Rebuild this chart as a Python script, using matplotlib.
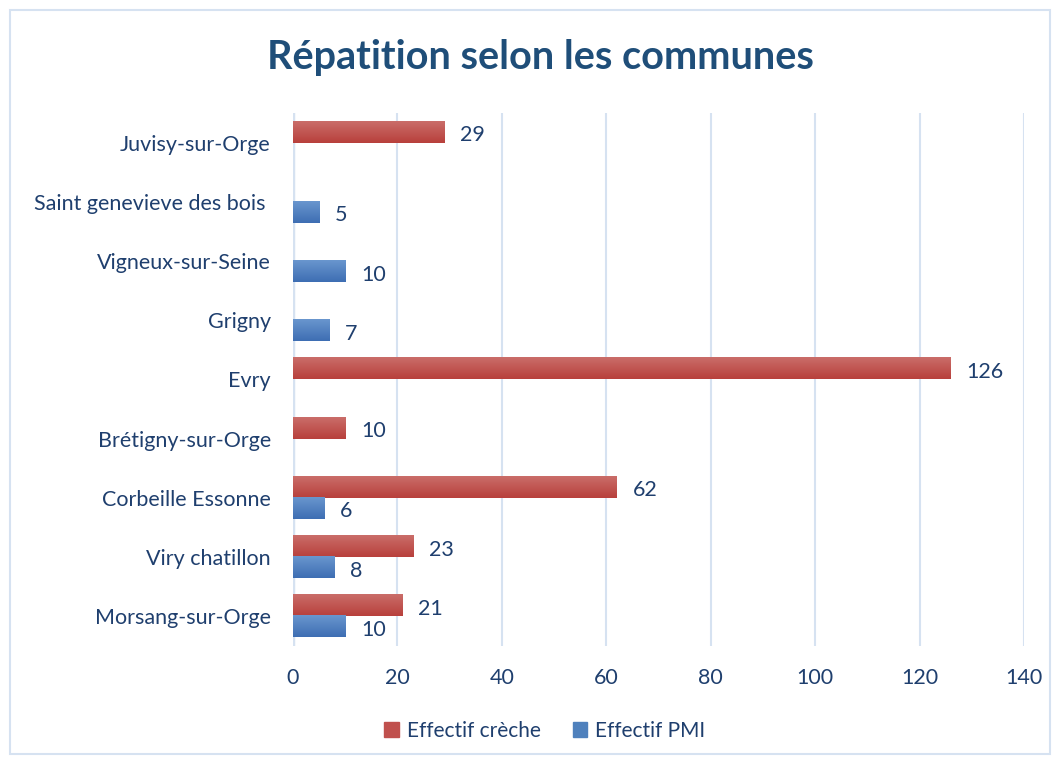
import numpy as np
import matplotlib.pyplot as plt
from matplotlib.patches import Rectangle
from matplotlib.colors import LinearSegmentedColormap

# Données
communes = ["Morsang-sur-Orge", "Viry chatillon", "Corbeille Essonne", "Brétigny-sur-Orge",
            "Evry", "Grigny", "Vigneux-sur-Seine", "Saint genevieve des bois ", "Juvisy-sur-Orge"]
creche = [21, 23, 62, 10, 126, None, None, None, 29]
pmi = [10, 8, 6, None, None, 7, 10, 5, None]
xticks = [0, 20, 40, 60, 80, 100, 120, 140]

texte = '#1F3F6E'
plt.rcParams['font.family'] = ['Lato', 'DejaVu Sans']

fig = plt.figure(figsize=(10.59, 7.62), dpi=100)
ax = fig.add_axes([293/1059, 1-646/762, (1024-293)/1059, 533/762])

# bordure du graphique
fig.patches.append(Rectangle((10/1059, 8/762), 1040/1059, 744/762, transform=fig.transFigure,
                             fill=False, edgecolor='#D6E2F1', linewidth=1.5))

y = np.arange(len(communes))
h = 0.355
c_vals = [v if v is not None else 0 for v in creche]
p_vals = [v if v is not None else 0 for v in pmi]
b1 = ax.barh(y + h/2, c_vals, height=h, color='#C0504D', label='Effectif crèche')
b2 = ax.barh(y - h/2, p_vals, height=h, color='#4F81BD', label='Effectif PMI')

# dégradé vertical dans chaque barre
def degrade(bars, haut, bas):
    grad = np.linspace(0, 1, 50).reshape(-1, 1)
    cmap = LinearSegmentedColormap.from_list('g', [haut, bas])
    for p in bars:
        if p.get_width() == 0:
            continue
        x0, y0 = p.get_x(), p.get_y()
        ax.imshow(grad, cmap=cmap, aspect='auto', origin='lower',
                  extent=(x0, x0 + p.get_width(), y0 + p.get_height(), y0), zorder=3)
        p.set_visible(False)

degrade(b1, '#CA6D69', '#B8403C')
degrade(b2, '#6996CE', '#3E6EB3')

for vals, off in ((creche, h/2), (pmi, -h/2)):
    for i, v in enumerate(vals):
        if v is not None:
            ax.text(v + 3, i + off - 0.05, str(v), va='center', ha='left', fontsize=15.5, color=texte)

ax.set_xlim(0, 140)
ax.set_ylim(-0.5, len(communes) - 0.5)
ax.set_xticks(xticks)
ax.set_yticks(y)
ax.set_yticklabels(communes)
ax.tick_params(length=0, labelsize=15.5, labelcolor=texte)
ax.tick_params(axis='x', pad=16)
ax.tick_params(axis='y', pad=16)
ax.grid(axis='x', color='#D6E2F1', linewidth=1.5)
ax.set_axisbelow(True)
for s in ax.spines.values():
    s.set_visible(False)
ax.axvline(0, color='#D6E2F1', linewidth=2.5, zorder=1)

fig.text(540/1059, 1-57/762, "Répatition selon les communes", ha='center', va='center',
         fontsize=28.5, fontweight='bold', color='#1F4E79')

handles = [Rectangle((0, 0), 1, 1, color='#C0504D'), Rectangle((0, 0), 1, 1, color='#4F81BD')]
fig.legend(handles, ['Effectif crèche', 'Effectif PMI'], loc='center', bbox_to_anchor=(545/1059, 1-731/762),
           ncol=2, frameon=False, fontsize=15, labelcolor=texte, handlelength=0.7, handleheight=0.7,
           columnspacing=1.5, handletextpad=0.4)

fig.savefig('out.png', dpi=100)
